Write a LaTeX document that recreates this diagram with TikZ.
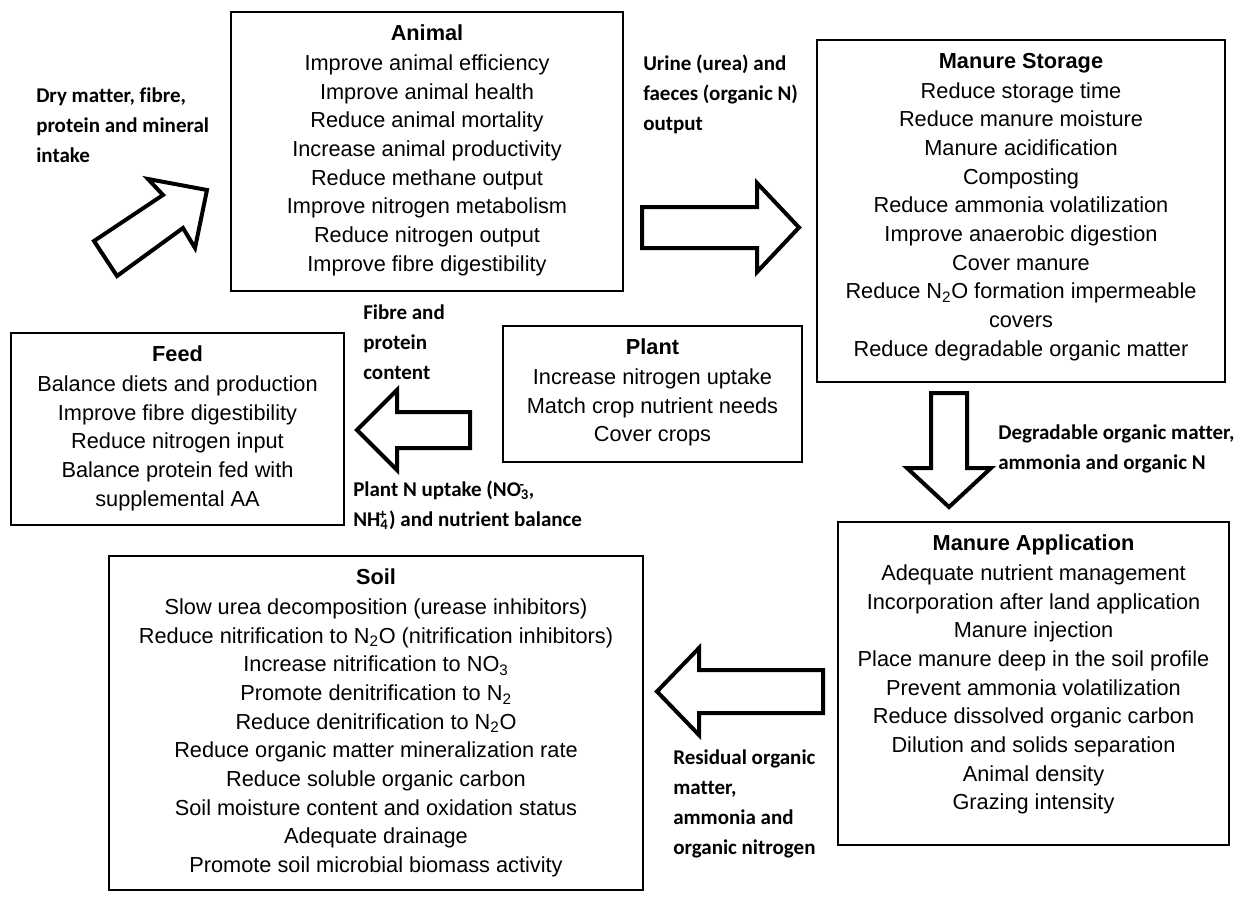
\documentclass[tikz,border=0pt]{standalone}
\usepackage{fontspec}
\setmainfont[Ligatures=NoCommon]{Liberation Sans}
\newfontfamily\calibri[Ligatures=NoCommon]{Carlito}
\usetikzlibrary{fit}
\begin{document}
\begin{tikzpicture}[x=0.75pt,y=-0.75pt,
  box/.style={draw, line width=1.1pt, inner sep=0pt},
  boxtext/.style={anchor=north, align=center, inner sep=0pt, font={\fontsize{16.3}{21.5}\selectfont}},
  lbl/.style={anchor=north west, align=left, inner sep=0pt, font={\calibri\bfseries\fontsize{15.75}{22.5}\selectfont}},
  blockarrow/.style={draw, line width=3pt, line join=miter, fill=white}]
\useasboundingbox (0,0) rectangle (1252,896);

% boxes
\node[box, fit={(231,12) (623,291)}] (animal) {};
\node[box, fit={(817,40) (1225,382)}] (storage) {};
\node[box, fit={(11,333) (344,525)}] (feed) {};
\node[box, fit={(503,326) (802,462)}] (plant) {};
\node[box, fit={(838,522) (1229,845)}] (application) {};
\node[box, fit={(109,556) (643,890)}] (soil) {};

% box texts
\node[boxtext] (animalT) at ([yshift=-10pt]animal.north) {\textbf{Animal}\\[1pt]
Improve animal efficiency\\Improve animal health\\Reduce animal mortality\\Increase animal productivity\\Reduce methane output\\Improve nitrogen metabolism\\Reduce nitrogen output\\Improve fibre digestibility};
\node[boxtext] (storageT) at ([yshift=-10pt]storage.north) {\textbf{Manure Storage}\\[1pt]
Reduce storage time\\Reduce manure moisture\\Manure acidification\\Composting\\Reduce ammonia volatilization\\Improve anaerobic digestion\\Cover manure\\Reduce N\textsubscript{2}O formation impermeable\\covers\\Reduce degradable organic matter};
\node[boxtext] (feedT) at ([yshift=-10pt]feed.north) {\textbf{Feed}\\[1pt]
Balance diets and production\\Improve fibre digestibility\\Reduce nitrogen input\\Balance protein fed with\\supplemental AA};
\node[boxtext] (plantT) at ([yshift=-10pt]plant.north) {\textbf{Plant}\\[1pt]
Increase nitrogen uptake\\Match crop nutrient needs\\Cover crops};
\node[boxtext] (applicationT) at ([yshift=-10pt]application.north) {\textbf{Manure Application}\\[1pt]
Adequate nutrient management\\Incorporation after land application\\Manure injection\\Place manure deep in the soil profile\\Prevent ammonia volatilization\\Reduce dissolved organic carbon\\Dilution and solids separation\\Animal density\\Grazing intensity};
\node[boxtext] (soilT) at ([yshift=-10pt]soil.north) {\textbf{Soil}\\[1pt]
Slow urea decomposition (urease inhibitors)\\Reduce nitrification to N\textsubscript{2}O (nitrification inhibitors)\\Increase nitrification to NO\textsubscript{3}\\Promote denitrification to N\textsubscript{2}\\Reduce denitrification to N\textsubscript{2}O\\Reduce organic matter mineralization rate\\Reduce soluble organic carbon\\Soil moisture content and oxidation status\\Adequate drainage\\Promote soil microbial biomass activity};

% labels
\node[lbl] (intake) at (36,87) {Dry matter, fibre,\\protein and mineral\\intake};
\node[lbl] (urine) at (643,55) {Urine (urea) and\\faeces (organic N)\\output};
\node[lbl] (fibre) at (363,304) {Fibre and\\protein\\content};
\node[lbl] (uptake) at (353,481) {Plant N uptake (NO\textsubscript{3}\kern-0.45em\textsuperscript{-}\kern0.2em,\\NH\textsubscript{4}\kern-0.45em\textsuperscript{+}\kern0.1em) and nutrient balance};
\node[lbl] (degradable) at (998,424) {Degradable organic matter,\\ammonia and organic N};
\node[lbl] (residual) at (673,749) {Residual organic\\matter,\\ammonia and\\organic nitrogen};

% block arrows
\draw[blockarrow] (94,241) -- (163,195) -- (148,179) -- (207,190) -- (195,248) -- (183,228) -- (117,276) -- cycle;
\draw[blockarrow] (642,207) -- (757,207) -- (757,183) -- (799,227.5) -- (757,272) -- (757,248) -- (642,248) -- cycle;
\draw[blockarrow] (931,393) -- (967,393) -- (967,468) -- (991,468) -- (949,507) -- (907,468) -- (931,468) -- cycle;
\draw[blockarrow] (470,412) -- (397,412) -- (397,390) -- (357,430) -- (397,470) -- (397,448) -- (470,448) -- cycle;
\draw[blockarrow] (823,670) -- (699,670) -- (699,648) -- (657,691.5) -- (699,735) -- (699,713) -- (823,713) -- cycle;
\end{tikzpicture}
\end{document}
